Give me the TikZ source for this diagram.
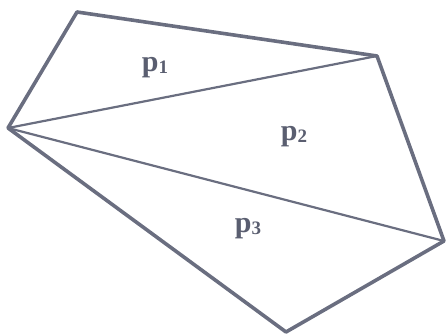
\documentclass[tikz,border=0pt]{standalone}
\usepackage{fontspec}
\setmainfont{Liberation Serif}
\definecolor{ink}{HTML}{6A6E80}
\definecolor{txt}{HTML}{5A5E70}
\begin{document}
\begin{tikzpicture}[x=1pt,y=-1pt,
  outer/.style={draw=ink,line width=3.6pt,line join=round,line cap=round},
  diag/.style={draw=ink,line width=2.2pt,line cap=round},
  lbl/.style={text=txt,inner sep=0pt,font=\fontsize{30}{30}\selectfont\bfseries}]
\useasboundingbox (0,0) rectangle (447,336);
\coordinate (L) at (8,128);
\coordinate (TL) at (77,12);
\coordinate (TR) at (377,56);
\coordinate (R) at (444,241);
\coordinate (B) at (286,332);
\draw[outer] (L) -- (TL) -- (TR) -- (R) -- (B) -- cycle;
\draw[diag] (L) -- (TR);
\draw[diag] (L) -- (R);
\node[lbl] (p1) at (155,68) {p\raisebox{-2pt}{\fontsize{19}{19}\selectfont 1}};
\node[lbl] (p2) at (294,137) {p\raisebox{-2pt}{\fontsize{19}{19}\selectfont 2}};
\node[lbl] (p3) at (248,229) {p\raisebox{-2pt}{\fontsize{19}{19}\selectfont 3}};
\end{tikzpicture}
\end{document}
